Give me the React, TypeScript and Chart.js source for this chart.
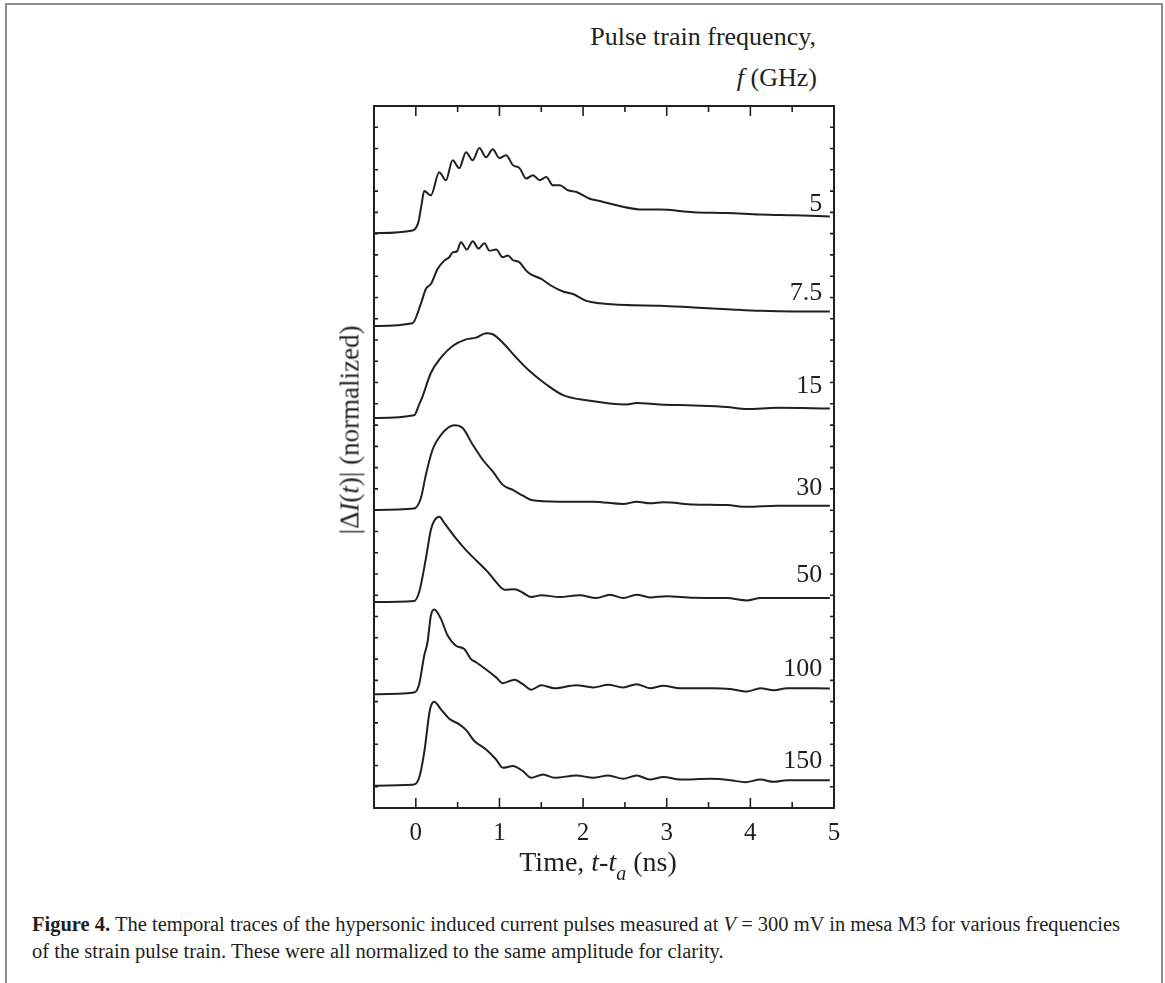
import React, { useEffect, useRef } from "react";
import { Chart, registerables } from "chart.js";
Chart.register(...registerables);

// ---- data (time in ns, signal in stacked normalized units) ----
const t5 = [-0.5, -0.04, 0.03, 0.07, 0.10, 0.18, 0.28, 0.36, 0.44, 0.52, 0.60, 0.68, 0.76, 0.84, 0.92, 1.00, 1.08, 1.16, 1.24, 1.32, 1.40, 1.48, 1.56, 1.64, 1.72, 1.82, 1.92, 2.08, 2.20, 2.40, 2.72, 2.92, 3.32, 3.72, 4.12, 4.52, 4.95];
const v5 = [27.02, 27.15, 27.53, 28.40, 29.00, 28.80, 29.89, 29.51, 30.45, 30.08, 30.83, 30.45, 31.02, 30.59, 30.97, 30.55, 30.69, 30.22, 30.08, 29.59, 29.75, 29.51, 29.66, 29.27, 29.27, 29.04, 28.96, 28.64, 28.53, 28.33, 28.13, 28.13, 28.01, 27.97, 27.90, 27.86, 27.81];

const t75 = [-0.5, -0.04, 0.06, 0.12, 0.18, 0.26, 0.34, 0.40, 0.44, 0.49, 0.54, 0.61, 0.68, 0.75, 0.82, 0.88, 0.96, 1.04, 1.10, 1.16, 1.24, 1.32, 1.37, 1.50, 1.62, 1.76, 1.88, 2.04, 2.20, 2.52, 2.92, 3.32, 3.72, 4.12, 4.52, 4.95];
const v75 = [22.66, 22.79, 23.70, 24.40, 24.63, 25.34, 25.73, 25.89, 26.12, 26.16, 26.60, 26.25, 26.64, 26.30, 26.55, 26.20, 26.25, 25.89, 25.97, 25.76, 25.65, 25.26, 25.10, 24.87, 24.55, 24.28, 24.16, 23.84, 23.73, 23.64, 23.61, 23.53, 23.45, 23.37, 23.34, 23.34];

const t15 = [-0.5, -0.02, 0.04, 0.08, 0.12, 0.18, 0.30, 0.44, 0.60, 0.72, 0.84, 0.92, 1.04, 1.20, 1.36, 1.56, 1.76, 2.04, 2.52, 2.64, 2.92, 3.32, 3.72, 3.96, 4.32, 4.95];
const v15 = [18.33, 18.46, 18.97, 19.34, 19.80, 20.45, 21.17, 21.72, 22.03, 22.11, 22.32, 22.27, 21.87, 21.17, 20.54, 19.91, 19.41, 19.17, 18.97, 19.04, 18.97, 18.92, 18.85, 18.76, 18.81, 18.78];

const t30 = [-0.5, -0.02, 0.06, 0.12, 0.20, 0.32, 0.46, 0.56, 0.68, 0.80, 0.92, 1.04, 1.16, 1.28, 1.38, 1.72, 2.12, 2.48, 2.64, 2.80, 2.96, 3.32, 3.72, 3.96, 4.32, 4.95];
const v30 = [14.01, 14.08, 14.56, 15.66, 16.84, 17.63, 17.99, 17.86, 17.08, 16.37, 15.82, 15.19, 14.95, 14.68, 14.48, 14.40, 14.40, 14.29, 14.40, 14.32, 14.37, 14.27, 14.24, 14.16, 14.21, 14.21];

const t50 = [-0.5, -0.02, 0.04, 0.12, 0.18, 0.22, 0.28, 0.34, 0.48, 0.60, 0.72, 0.86, 0.96, 1.06, 1.18, 1.28, 1.38, 1.50, 1.72, 1.96, 2.16, 2.32, 2.48, 2.64, 2.80, 3.00, 3.32, 3.72, 3.96, 4.12, 4.44, 4.95];
const v50 = [9.68, 9.73, 10.15, 11.72, 13.08, 13.50, 13.69, 13.40, 12.67, 12.12, 11.65, 11.10, 10.62, 10.26, 10.28, 10.12, 9.92, 10.00, 9.92, 10.00, 9.87, 10.03, 9.87, 10.03, 9.90, 9.95, 9.88, 9.87, 9.76, 9.87, 9.87, 9.87];

const t100 = [-0.5, -0.02, 0.04, 0.10, 0.14, 0.18, 0.22, 0.30, 0.38, 0.48, 0.58, 0.66, 0.72, 0.86, 0.96, 1.04, 1.18, 1.28, 1.38, 1.50, 1.66, 1.92, 2.12, 2.30, 2.48, 2.64, 2.80, 2.96, 3.16, 3.56, 3.76, 3.96, 4.12, 4.28, 4.44, 4.95];
const v100 = [5.35, 5.43, 5.82, 7.16, 7.79, 9.05, 9.33, 8.89, 8.11, 7.63, 7.47, 7.00, 6.85, 6.45, 6.14, 5.87, 6.03, 5.82, 5.56, 5.77, 5.63, 5.77, 5.67, 5.79, 5.67, 5.82, 5.63, 5.75, 5.63, 5.63, 5.59, 5.48, 5.63, 5.54, 5.63, 5.62];

const t150 = [-0.5, -0.04, 0.04, 0.10, 0.17, 0.22, 0.30, 0.40, 0.52, 0.60, 0.70, 0.84, 0.96, 1.04, 1.16, 1.28, 1.38, 1.52, 1.66, 1.92, 2.12, 2.30, 2.48, 2.64, 2.80, 2.96, 3.16, 3.52, 3.76, 3.94, 4.12, 4.28, 4.44, 4.95];
const v150 = [1.05, 1.09, 1.42, 2.60, 4.64, 5.00, 4.64, 4.20, 3.93, 3.67, 3.15, 2.75, 2.28, 1.89, 1.97, 1.73, 1.42, 1.57, 1.42, 1.53, 1.42, 1.53, 1.37, 1.53, 1.34, 1.46, 1.34, 1.37, 1.31, 1.21, 1.34, 1.23, 1.31, 1.31];

const traceLabels = ["5", "7.5", "15", "30", "50", "100", "150"];
const traceLabelY = [28.06, 23.88, 19.51, 14.73, 10.62, 6.22, 1.89];
const traceLabelX = 4.86;

const xMajorTicks = [0, 1, 2, 3, 4, 5];
const xMinorTicks = [0.5, 1.5, 2.5, 3.5, 4.5];
const yTicks = [1, 2, 3, 4, 5, 6, 7, 8, 9, 10, 11, 12, 13, 14, 15, 16, 17, 18, 19, 20, 21, 22, 23, 24, 25, 26, 27, 28, 29, 30, 31, 32];

const INK = "#231f20";
const SERIF = '"Liberation Serif", "Times New Roman", serif';

const series = [
  [t5, v5],
  [t75, v75],
  [t15, v15],
  [t30, v30],
  [t50, v50],
  [t100, v100],
  [t150, v150],
];

const frameTicksPlugin = {
  id: "frameTicks",
  afterDraw(chart: any) {
    const { ctx, chartArea: a, scales } = chart;
    const xs = scales.x;
    const ys = scales.y;
    ctx.save();
    ctx.strokeStyle = INK;
    ctx.lineWidth = 2;
    ctx.strokeRect(a.left, a.top, a.right - a.left, a.bottom - a.top);
    ctx.lineWidth = 1.6;
    ctx.beginPath();
    for (const v of xMajorTicks) {
      const px = xs.getPixelForValue(v);
      ctx.moveTo(px, a.bottom);
      ctx.lineTo(px, a.bottom - 10);
      ctx.moveTo(px, a.top);
      ctx.lineTo(px, a.top + 10);
    }
    for (const v of xMinorTicks) {
      const px = xs.getPixelForValue(v);
      ctx.moveTo(px, a.bottom);
      ctx.lineTo(px, a.bottom - 6);
      ctx.moveTo(px, a.top);
      ctx.lineTo(px, a.top + 6);
    }
    for (const v of yTicks) {
      const py = ys.getPixelForValue(v);
      ctx.moveTo(a.left, py);
      ctx.lineTo(a.left + 4, py);
      ctx.moveTo(a.right, py);
      ctx.lineTo(a.right - 4, py);
    }
    ctx.stroke();
    ctx.fillStyle = INK;
    ctx.font = `26px ${SERIF}`;
    ctx.textAlign = "right";
    ctx.textBaseline = "alphabetic";
    traceLabels.forEach((s, i) => {
      ctx.fillText(s, xs.getPixelForValue(traceLabelX), ys.getPixelForValue(traceLabelY[i]));
    });
    ctx.restore();
  },
};

export default function App() {
  const ref = useRef<HTMLCanvasElement | null>(null);

  useEffect(() => {
    if (!ref.current) return;
    const chart = new Chart(ref.current, {
      type: "line",
      data: {
        datasets: series.map(([ts, vs], i) => ({
          label: traceLabels[i],
          data: ts.map((t, k) => ({ x: t, y: vs[k] })),
          borderColor: INK,
          borderWidth: 2,
          pointRadius: 0,
          fill: false,
          cubicInterpolationMode: "monotone" as const,
        })),
      },
      options: {
        animation: false,
        responsive: false,
        devicePixelRatio: 1,
        events: [],
        layout: { padding: { left: 44, right: 36, top: 10, bottom: 28 } },
        plugins: { legend: { display: false }, tooltip: { enabled: false } },
        scales: {
          x: {
            type: "linear",
            min: -0.5,
            max: 5,
            afterBuildTicks: (scale: any) => {
              scale.ticks = xMajorTicks.map((v) => ({ value: v }));
            },
            ticks: {
              color: INK,
              font: { family: SERIF, size: 25 },
              padding: 10,
              maxRotation: 0,
              autoSkip: false,
              callback: (v: any) => String(v),
            },
            grid: { display: false, drawTicks: false },
            border: { display: false },
          },
          y: {
            type: "linear",
            min: 0,
            max: 33,
            display: false,
          },
        },
      },
      plugins: [frameTicksPlugin],
    });
    return () => chart.destroy();
  }, []);

  const text: React.CSSProperties = {
    position: "absolute",
    fontFamily: SERIF,
    color: INK,
    whiteSpace: "nowrap",
  };

  return (
    <div
      style={{
        position: "absolute",
        left: 0,
        top: 0,
        width: 1165,
        height: 983,
        overflow: "hidden",
        background: "#fff",
      }}
    >
      <div
        style={{
          position: "absolute",
          left: 5,
          top: 3,
          width: 1154,
          height: 1100,
          borderTop: "2px solid #8f8f8f",
          borderLeft: "2px solid #8f8f8f",
          borderRight: "2px solid #8f8f8f",
        }}
      />
      <canvas
        ref={ref}
        width={540}
        height={790}
        style={{ position: "absolute", left: 330, top: 96, width: 540, height: 790 }}
      />
      <div style={{ ...text, right: 349, top: 24, fontSize: 26, lineHeight: "26px" }}>
        Pulse train frequency,
      </div>
      <div style={{ ...text, right: 348, top: 65, fontSize: 26, lineHeight: "26px" }}>
        <i>f</i> (GHz)
      </div>
      <div
        style={{
          ...text,
          left: 350,
          top: 430,
          fontSize: 27,
          lineHeight: "27px",
          transform: "translate(-50%, -50%) rotate(-90deg)",
        }}
      >
        |Δ<i>I</i>(<i>t</i>)| (normalized)
      </div>
      <div style={{ ...text, left: 598, top: 848, fontSize: 28, lineHeight: "28px", transform: "translateX(-50%)" }}>
        Time, <i>t</i>-<i>t</i>
        <sub style={{ fontSize: 20, verticalAlign: "-9px", fontStyle: "italic" }}>a</sub> (ns)
      </div>
      <div style={{ ...text, left: 32, top: 914, fontSize: 20.5, lineHeight: "21px" }}>
        <b>Figure 4.</b> The temporal traces of the hypersonic induced current pulses measured at <i>V</i> = 300 mV in mesa M3 for various frequencies
      </div>
      <div style={{ ...text, left: 32, top: 941, fontSize: 20.5, lineHeight: "21px" }}>
        of the strain pulse train. These were all normalized to the same amplitude for clarity.
      </div>
    </div>
  );
}
